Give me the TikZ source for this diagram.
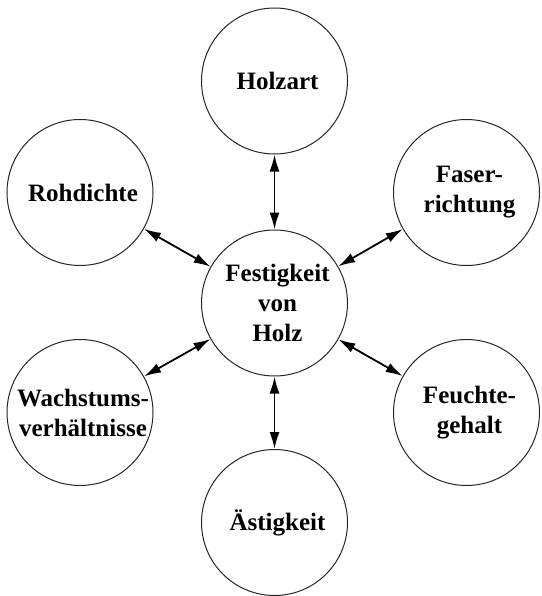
\documentclass[tikz,border=0pt]{standalone}
\usepackage{fontspec}
\setmainfont{Liberation Serif}
\usetikzlibrary{arrows.meta}
\begin{document}
\begin{tikzpicture}[x=1pt,y=-1pt,
  ring/.style={circle, draw=black!85, line width=1pt, minimum size=146pt, inner sep=0pt},
  lbl/.style={align=center, inner sep=0pt, font=\fontsize{25}{30}\selectfont\bfseries, xshift=3pt},
  arr/.style={line width=1.8pt, {Latex[length=17pt,width=10pt]}-{Latex[length=17pt,width=10pt]}}]
\useasboundingbox (0,0) rectangle (541,596);
\node[ring] (c)  at (274.5,303) {};
\node[ring] (ho) at (274.5,81) {};
\node[ring] (ro) at (80,192.5) {};
\node[ring] (fa) at (466.5,192.5) {};
\node[ring] (wa) at (80,412.5) {};
\node[ring] (fe) at (466.5,412.5) {};
\node[ring] (ae) at (274.5,522.5) {};
\node[lbl] (cT)  at (c)  {Festigkeit\\von\\Holz};
\node[lbl] (hoT) at (ho) {Holzart};
\node[lbl] (roT) at (ro) {Rohdichte};
\node[lbl] (faT) at (fa) {Faser-\\richtung};
\node[lbl] (waT) at (wa) {Wachstums-\\verhältnisse};
\node[lbl] (feT) at (fe) {Feuchte-\\gehalt};
\node[lbl] (aeT) at (ae) {Ästigkeit};
\draw[arr] (c) -- (ho);
\draw[arr] (c) -- (ro);
\draw[arr] (c) -- (fa);
\draw[arr] (c) -- (wa);
\draw[arr] (c) -- (fe);
\draw[arr] (c) -- (ae);
\end{tikzpicture}
\end{document}
